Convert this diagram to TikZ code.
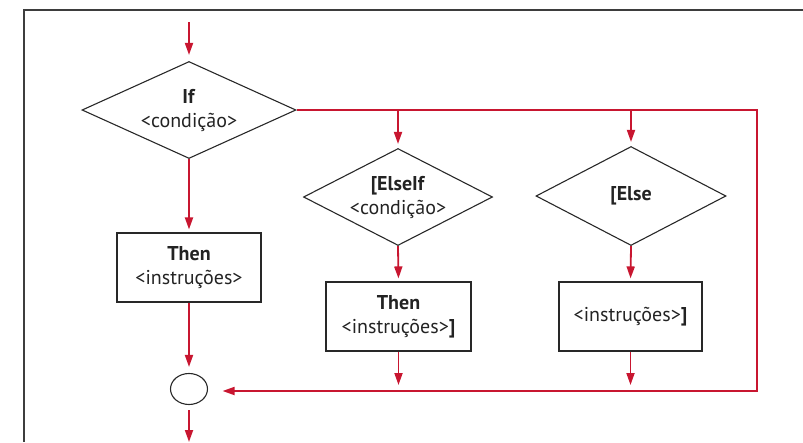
\documentclass[tikz,border=0pt]{standalone}
\usepackage{fontspec}
\setmainfont{PT Sans}
\usetikzlibrary{shapes.geometric,arrows.meta,calc}
\definecolor{myred}{RGB}{200,22,48}
\definecolor{myline}{RGB}{40,40,40}
\definecolor{mytext}{RGB}{35,35,35}
\begin{document}
\begin{tikzpicture}[x=1pt,y=-1pt,
  flow/.style={draw=myred,line width=1.8pt},
  arr/.style={flow,-{Triangle[length=12pt,width=8pt]}},
  dia/.style={diamond,draw=myline,line width=1.1pt,inner sep=-4pt,shape aspect=2,align=center,text=mytext,font=\fontsize{20}{24}\selectfont},
  stepbox/.style={rectangle,draw=myline,line width=1.1pt,minimum height=69pt,align=center,text=mytext,font=\fontsize{20}{24}\selectfont},
  endcirc/.style={ellipse,draw=myline,line width=1.1pt,minimum width=37pt,minimum height=31pt,inner sep=0pt}]
\useasboundingbox (0,0) rectangle (803,442);
\draw[draw=myline!90,line width=2pt] (803,10) -- (24,10) -- (24,442);
\node[dia,minimum width=214pt,minimum height=97pt] (if) at (189,110) {\textbf{If}\\<condição>};
\node[dia,minimum width=189pt,minimum height=97pt] (elif) at (398,197) {\textbf{[ElseIf}\\<condição>};
\node[dia,minimum width=190pt,minimum height=99pt] (else) at (631,196) {\textbf{[Else}};
\node[stepbox,minimum width=144pt] (then1) at (189,267.5) {\textbf{Then}\\<instruções>};
\node[stepbox,minimum width=145pt] (then2) at (398.5,316.5) {\textbf{Then}\\<instruções>\textbf{]}};
\node[stepbox,minimum width=143pt] (else2) at (630.5,316.5) {<instruções>\textbf{]}};
\node[endcirc] (circ) at (189,389) {};
\coordinate (start) at (189,22);
\coordinate (stop) at (189,442);
\coordinate (r1) at (757,110);
\coordinate (r2) at (757,391);
\draw[arr,shorten >=6pt] (start) -- (if.north);
\draw[arr,shorten >=3pt] (if.south) -- (then1.north);
\draw[arr,shorten >=6pt] (then1.south) -- (circ.north);
\draw[arr,shorten <=5pt] (circ.south) -- (stop);
\draw[arr,shorten >=14.5pt] (if.east) -- (r1) -- (r2) -- (circ.east |- r2);
\draw[arr,shorten >=4pt] (if.east -| elif.north) -- (elif.north);
\draw[arr,shorten >=4pt] (if.east -| else.north) -- (else.north);
\draw[arr,shorten >=3pt] (elif.south) -- (then2.north);
\draw[arr,shorten >=3pt] (else.south) -- (else2.north);
\draw[arr,shorten >=6pt] (then2.south) -- (then2.south |- r2);
\draw[arr,shorten >=6pt] (else2.south) -- (else2.south |- r2);
\end{tikzpicture}
\end{document}
